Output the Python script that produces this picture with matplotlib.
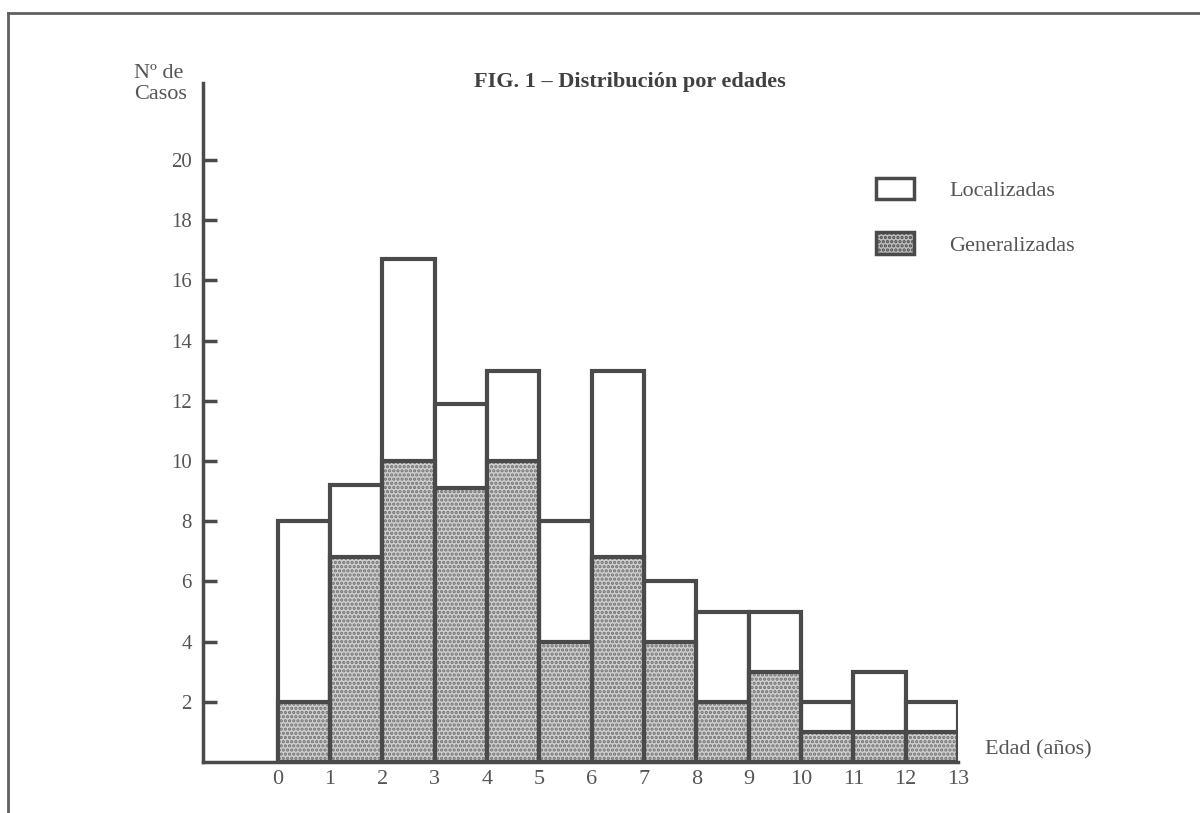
import numpy as np
import matplotlib
matplotlib.use("Agg")
import matplotlib.pyplot as plt
from matplotlib.lines import Line2D

plt.rcParams['font.family'] = ['Liberation Serif', 'DejaVu Serif']
plt.rcParams['hatch.linewidth'] = 1.6

# datos
edades = np.arange(0, 13)
total = [8, 9.2, 16.7, 11.9, 13, 8, 13, 6, 5, 5, 2, 3, 2]
generalizadas = [2, 6.8, 10, 9.1, 10, 4, 6.8, 4, 2, 3, 1, 1, 1]
yticks = [2, 4, 6, 8, 10, 12, 14, 16, 18, 20]
xticks = list(range(0, 14))

tinta = '#4a4a4a'
texto = '#555555'

fig = plt.figure(figsize=(12, 8.13), dpi=100)
ax = fig.add_axes([203/1200, 1 - 762/813, (958 - 203)/1200, (762 - 83)/813])

# barras totales (localizadas arriba)
ax.bar(edades, total, width=1, align='edge', color='white',
       edgecolor=tinta, linewidth=3, zorder=2)
# relleno punteado de generalizadas
ax.bar(edades, generalizadas, width=1, align='edge', color='#cfcfcf',
       edgecolor='#707070', hatch='....', linewidth=0, zorder=3)
ax.bar(edades, generalizadas, width=1, align='edge', fill=False,
       edgecolor=tinta, linewidth=3, zorder=4)

ax.set_xlim(-1.43, 13)
ax.set_ylim(0, (762 - 83) / 30.1)

for s in ['top', 'right']:
    ax.spines[s].set_visible(False)
for s in ['left', 'bottom']:
    ax.spines[s].set_color(tinta)
    ax.spines[s].set_linewidth(2.5)

ax.set_yticks(yticks)
ax.set_yticklabels([str(v) for v in yticks], fontsize=15, color=texto)
ax.tick_params(axis='y', direction='in', length=10, width=2.5, color=tinta, pad=8)
ax.set_xticks(xticks)
ax.set_xticklabels([str(v) for v in xticks], fontsize=16, color=texto)
ax.tick_params(axis='x', length=0, pad=6)

fig.text(630/1200, 1 - 82/813, 'FIG. 1 – Distribución por edades',
         ha='center', va='center', fontsize=16, fontweight='bold', color='#404040')
fig.text(134/1200, 1 - 84/813, 'Nº de\nCasos', ha='left', va='center',
         fontsize=16, color=texto, linespacing=1.15)
fig.text(985/1200, 1 - 750/813, 'Edad (años)', ha='left', va='center',
         fontsize=16, color=texto)

# leyenda
h1 = plt.Rectangle((0, 0), 1, 1, facecolor='white', edgecolor=tinta, linewidth=2.5)
h2 = plt.Rectangle((0, 0), 1, 1, facecolor='#bdbdbd', edgecolor=tinta,
                   linewidth=2.5, hatch='....')
ax.legend([h1, h2], ['Localizadas', 'Generalizadas'], loc='upper left',
          bbox_to_anchor=(876/1200, 1 - 178/813), bbox_transform=fig.transFigure,
          frameon=False, fontsize=16, handlelength=1.7, handleheight=1.1,
          handletextpad=1.6, labelspacing=1.4, borderpad=0, borderaxespad=0,
          labelcolor=texto)

# marco del recorte
fig.add_artist(Line2D([8/1200, 1], [1 - 13/813, 1 - 13/813],
                      transform=fig.transFigure, color='#606060', lw=2))
fig.add_artist(Line2D([8/1200, 8/1200], [0, 1 - 13/813],
                      transform=fig.transFigure, color='#606060', lw=2))

fig.savefig('out.png', dpi=100, facecolor='white')
